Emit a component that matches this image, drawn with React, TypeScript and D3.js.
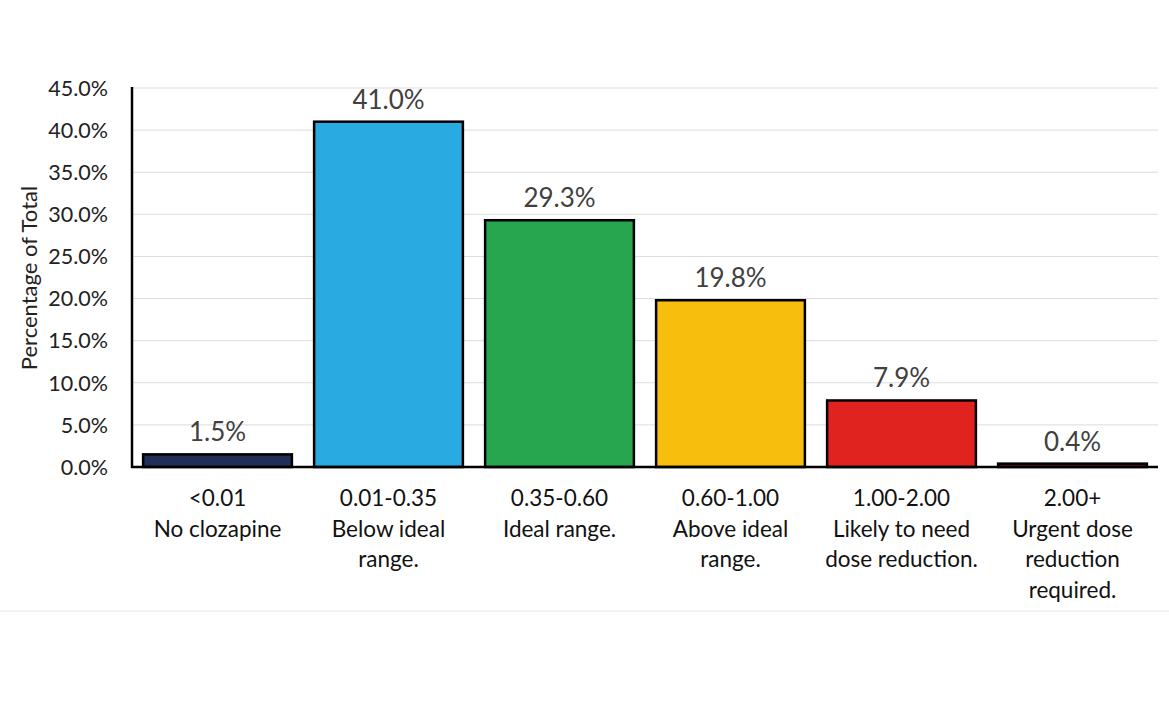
import React from "react";
import * as d3 from "d3";

const categories = ["<0.01|No clozapine", "0.01-0.35|Below ideal|range.", "0.35-0.60|Ideal range.", "0.60-1.00|Above ideal|range.", "1.00-2.00|Likely to need|dose reduction.", "2.00+|Urgent dose|reduction|required."];
const values = [1.5, 41.0, 29.3, 19.8, 7.9, 0.4];
const colors = ["#202e58", "#29abe2", "#27a54f", "#f8be0e", "#e1231f", "#6a1420"];
const yTicks = [0, 5, 10, 15, 20, 25, 30, 35, 40, 45];

const W = 1169, H = 725;
const FONT = "Lato, 'Open Sans', sans-serif";

export default function App() {
  const x = d3.scaleBand<number>().domain(d3.range(categories.length)).range([132, 1158]).paddingInner(0.13).paddingOuter(0.065);
  const y = d3.scaleLinear().domain([0, 45]).range([467, 88]);
  return (
    <svg width={W} height={H} style={{ position: "absolute", left: 0, top: 0, background: "#fff" }} fontFamily={FONT}>
      <rect x={0} y={0} width={W} height={H} fill="#fff" />
      {yTicks.map((t) => (
        <g key={t}>
          {t > 0 && <line x1={132} x2={1158} y1={y(t)} y2={y(t)} stroke="#dcdcdc" strokeWidth={1} />}
          <text x={108} y={y(t)} dy="0.36em" textAnchor="end" fontSize={21.5} fill="#222">{t.toFixed(1)}%</text>
        </g>
      ))}
      <text transform={`translate(37,278) rotate(-90)`} textAnchor="middle" fontSize={22} fill="#222">Percentage of Total</text>
      {values.map((v, i) => (
        <g key={i}>
          <rect x={x(i)!} y={y(v)} width={x.bandwidth()} height={y(0) - y(v)} fill={colors[i]} stroke="#000" strokeWidth={2.5} />
          <text x={x(i)! + x.bandwidth() / 2} y={y(v) - 13} textAnchor="middle" fontSize={26} fill="#404040">{v.toFixed(1)}%</text>
          {categories[i].split("|").map((line, j) => (
            <text key={j} x={x(i)! + x.bandwidth() / 2} y={506 + j * 30.5} textAnchor="middle" fontSize={22.5} fill="#111">{line}</text>
          ))}
        </g>
      ))}
      <line x1={132} x2={132} y1={87} y2={468} stroke="#000" strokeWidth={2.5} />
      <line x1={131} x2={1158} y1={467} y2={467} stroke="#000" strokeWidth={2.5} />
      <line x1={0} x2={W} y1={611} y2={611} stroke="#ececec" strokeWidth={1.5} />
    </svg>
  );
}
